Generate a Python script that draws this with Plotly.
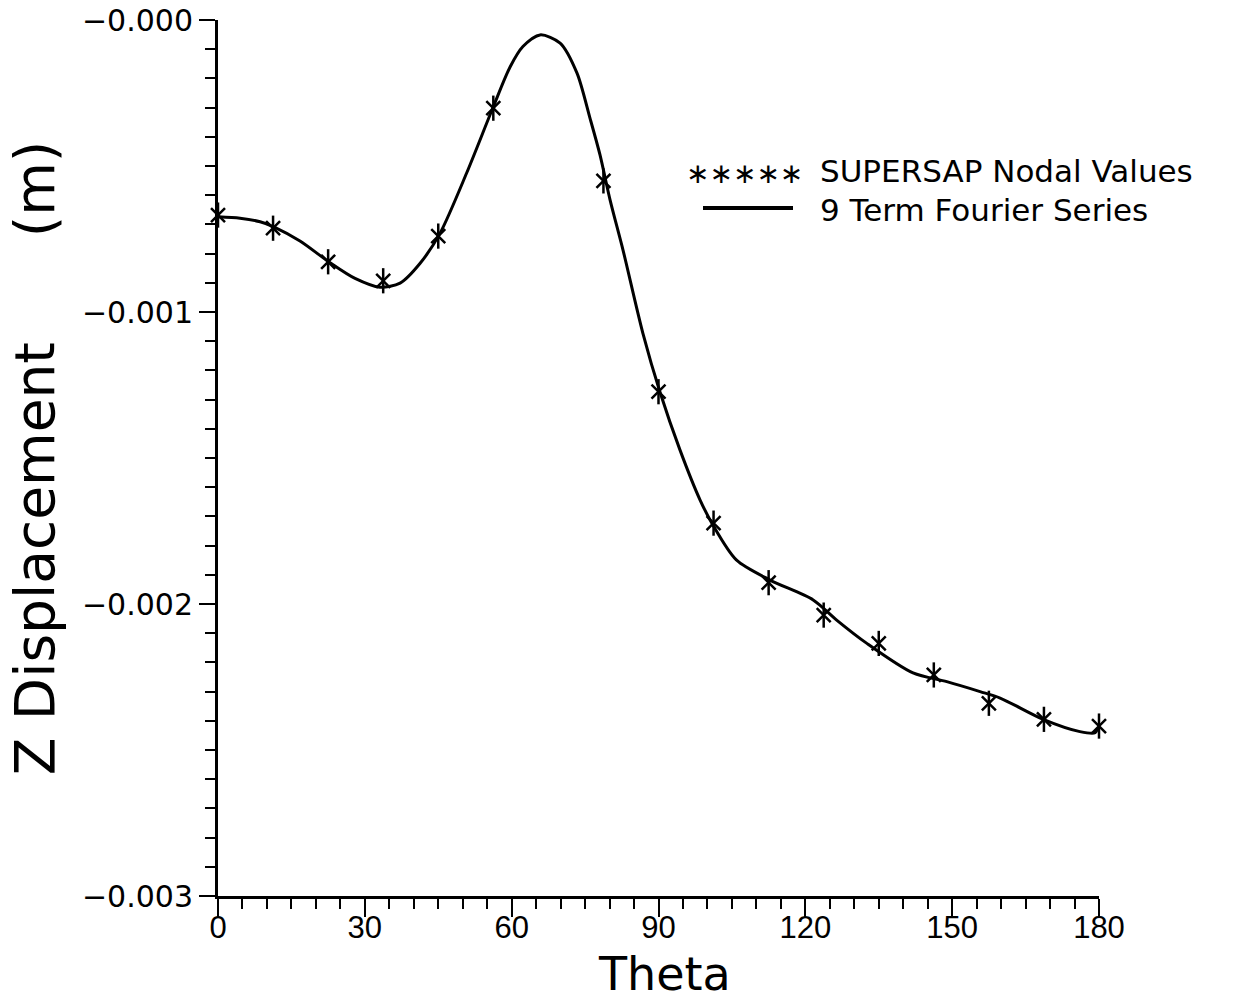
import plotly.graph_objects as go

# ---- data ----
theta_nodes = [0, 11.25, 22.5, 33.75, 45, 56.25, 67.5, 78.75, 90,
               101.25, 112.5, 123.75, 135, 146.25, 157.5, 168.75, 180]
z_nodes = [-0.000668, -0.000713, -0.000828, -0.000893, -0.000740, -0.000302,
           0.000006, -0.000551, -0.001273, -0.001723, -0.001927, -0.002038,
           -0.002135, -0.002243, -0.002340, -0.002395, -0.002418]

theta_fit = [0, 4.5, 8.6, 11.5, 16.75, 22.7, 28.0, 33.1, 37.2, 41.3, 45.4,
             50.8, 56.25, 59.7, 62.3, 65.8, 69.9, 73.35, 76.0, 78.05, 80.1,
             82.75, 86.8, 90.3, 94.4, 98.5, 101.1, 105.9, 112.8, 121.6, 126.4,
             132.5, 142.0, 148.9, 155.7, 159.8, 168.6, 176.1, 179.2, 179.7]
z_fit = [-0.000674, -0.000679, -0.000691, -0.000709, -0.000757, -0.000829,
         -0.000885, -0.000915, -0.000901, -0.000833, -0.000729, -0.000524,
         -0.000297, -0.000160, -0.000091, -0.000051, -0.000079, -0.000182,
         -0.000336, -0.000462, -0.000616, -0.000788, -0.001072, -0.001274,
         -0.001473, -0.001644, -0.001729, -0.001849, -0.001918, -0.001986,
         -0.002055, -0.002134, -0.002236, -0.002266, -0.002300, -0.002322,
         -0.002395, -0.002437, -0.002441, -0.002425]

x_tick_vals = [0, 30, 60, 90, 120, 150, 180]
x_tick_text = ["0", "30", "60", "90", "120", "150", "180"]
y_tick_vals = [0, -0.001, -0.002, -0.003]
y_tick_text = ["\u22120.000", "\u22120.001", "\u22120.002", "\u22120.003"]

x_title = "Theta"
y_title = "Z Displacement\u00a0\u00a0\u00a0\u00a0\u00a0\u00a0(m)"
legend_markers = "SUPERSAP Nodal Values"
legend_line = "9 Term Fourier Series"

# ---- figure ----
fig = go.Figure()
fig.add_trace(go.Scatter(
    x=theta_fit, y=z_fit, mode="lines", name=legend_line,
    line=dict(color="black", width=3, shape="spline", smoothing=0.8),
    showlegend=False, cliponaxis=False))
fig.add_trace(go.Scatter(
    x=theta_nodes, y=z_nodes, mode="markers", name=legend_markers,
    marker=dict(symbol="x-thin-open", size=14, color="black",
                line=dict(color="black", width=2.5)),
    showlegend=False, cliponaxis=False))
fig.add_trace(go.Scatter(
    x=theta_nodes, y=z_nodes, mode="markers", name=legend_markers,
    marker=dict(symbol="line-ns-open", size=18, color="black",
                line=dict(color="black", width=2.5)),
    showlegend=False, cliponaxis=False))

W, H = 1234, 1003
ML, MR, MT, MB = 218, 135, 20, 107
PW, PH = W - ML - MR, H - MT - MB


def px(x):
    return (x - ML) / PW


def py(y):
    return 1 - (y - MT) / PH


legend_font = dict(family="DejaVu Sans, sans-serif", size=31, color="black")
fig.add_annotation(x=px(818), y=py(171), xref="paper", yref="paper",
                   text=legend_markers, showarrow=False, xanchor="left",
                   yanchor="middle", font=legend_font)
fig.add_annotation(x=px(818), y=py(210), xref="paper", yref="paper",
                   text=legend_line, showarrow=False, xanchor="left",
                   yanchor="middle", font=legend_font)
fig.add_annotation(x=px(744), y=py(173), xref="paper", yref="paper",
                   text="\u2217\u2217\u2217\u2217\u2217", showarrow=False,
                   xanchor="center", yanchor="middle",
                   font=dict(family="DejaVu Sans, sans-serif", size=28, color="black"))
fig.add_shape(type="line", xref="paper", yref="paper",
              x0=px(703), x1=px(793), y0=py(208), y1=py(208),
              line=dict(color="black", width=4))
# x-axis title placed explicitly below the tick labels
fig.add_annotation(x=px(664), y=py(974), xref="paper", yref="paper",
                   text=x_title, showarrow=False, xanchor="center",
                   yanchor="middle",
                   font=dict(family="DejaVu Sans, sans-serif", size=46, color="black"))

fig.update_layout(
    width=W, height=H,
    margin=dict(l=ML, r=MR, t=MT, b=MB),
    paper_bgcolor="white", plot_bgcolor="white",
    showlegend=False,
    font=dict(family="DejaVu Sans, sans-serif", color="black"),
)
fig.update_xaxes(
    range=[0, 180], tickvals=x_tick_vals, ticktext=x_tick_text,
    automargin=False,
    showline=True, linecolor="black", linewidth=3, showgrid=False, zeroline=False,
    ticks="outside", ticklen=18, tickwidth=2, tickcolor="black",
    minor=dict(dtick=5, tick0=0, ticks="outside", ticklen=10, tickwidth=2,
               tickcolor="black", showgrid=False),
    tickfont=dict(family="Liberation Sans Narrow, Liberation Sans, sans-serif",
                  size=31, color="black"),
    ticklabelstandoff=-16,
)
fig.update_yaxes(
    range=[-0.003, 0], tickvals=y_tick_vals, ticktext=y_tick_text,
    automargin=False,
    showline=True, linecolor="black", linewidth=3, showgrid=False, zeroline=False,
    ticks="outside", ticklen=16, tickwidth=2, tickcolor="black",
    minor=dict(dtick=0.0001, tick0=0, ticks="outside", ticklen=10, tickwidth=2,
               tickcolor="black", showgrid=False),
    tickfont=dict(family="DejaVu Sans, sans-serif", size=30, color="black"),
    ticklabelstandoff=0,
    title=dict(text=y_title, standoff=10,
               font=dict(family="DejaVu Sans, sans-serif", size=55, color="black")),
)

fig.write_html("out.html")
